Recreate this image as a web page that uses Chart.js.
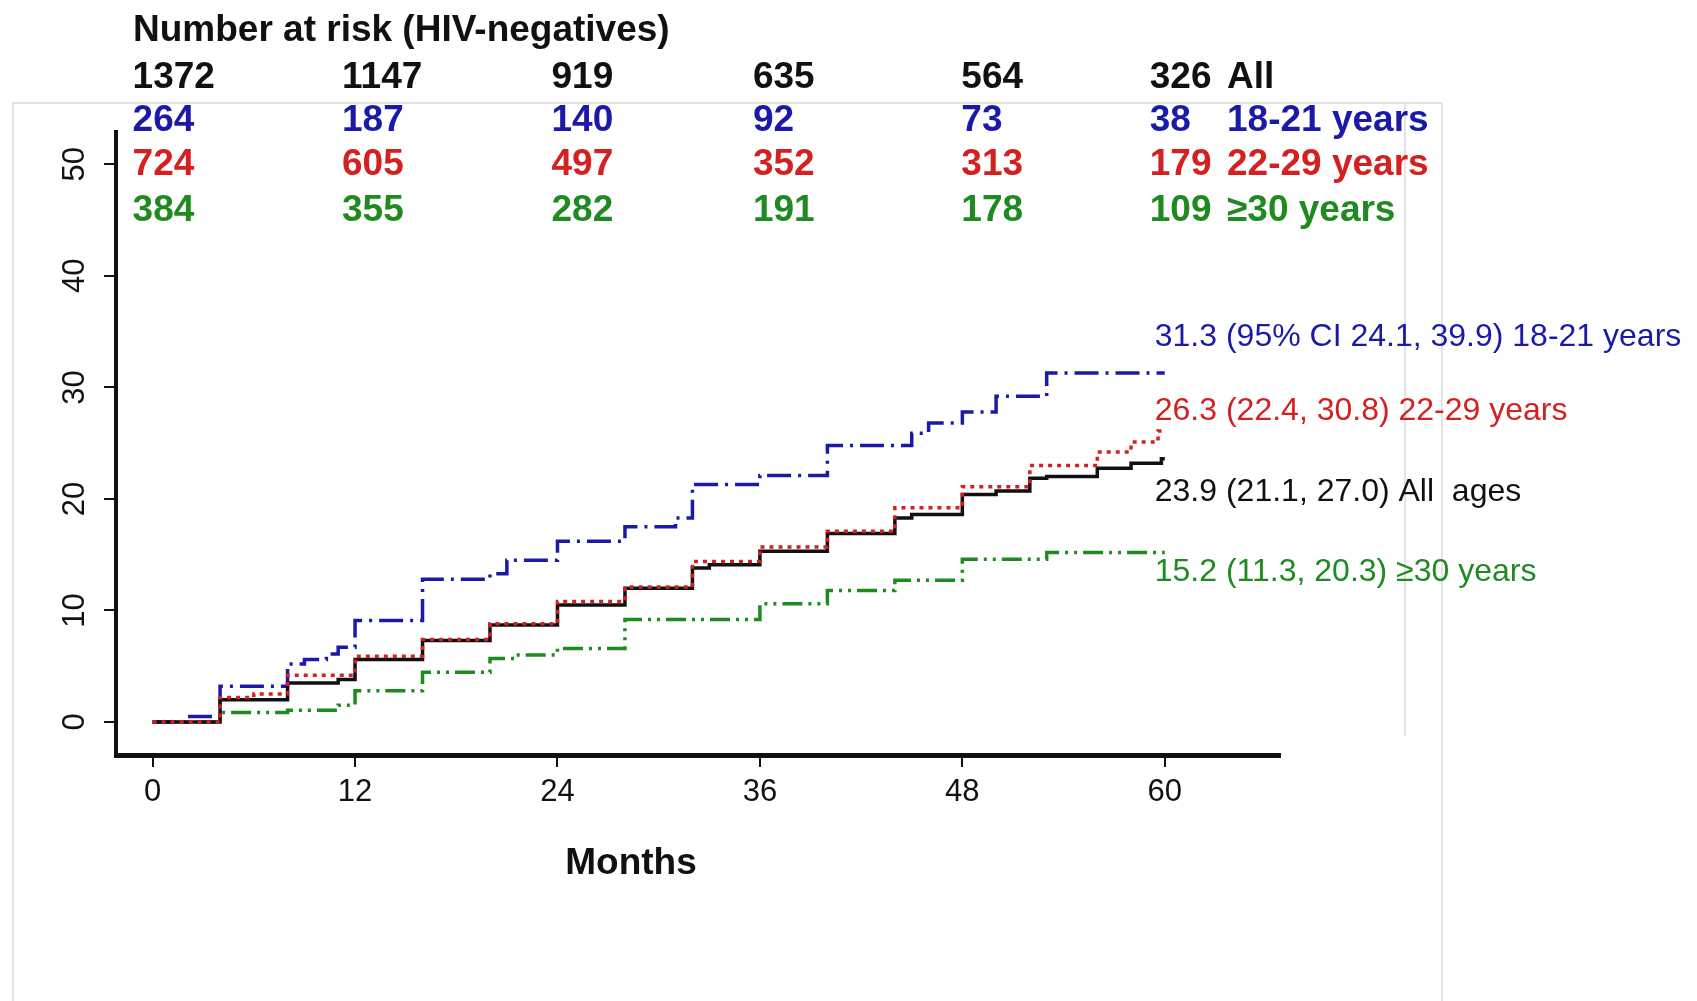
<!DOCTYPE html>
<html>
<head>
<meta charset="utf-8">
<script src="https://cdn.jsdelivr.net/npm/chart.js@4.4.1/dist/chart.umd.min.js"></script>
<style>
  html, body { margin: 0; padding: 0; background: #fff; }
  #wrap { width: 1697px; height: 1001px; position: relative; }
</style>
</head>
<body>
<div id="wrap"><canvas id="km"></canvas></div>
<script>
// cumulative incidence (%) step curves
const allMonths = [0, 4, 8, 11, 12, 16, 20, 24, 28, 32, 33, 36, 40, 44, 45, 48, 50, 52, 53, 56, 58, 59.8, 60]
const allValues = [0, 2.0, 3.5, 3.8, 5.6, 7.3, 8.7, 10.5, 12.0, 13.8, 14.1, 15.3, 16.9, 18.3, 18.6, 20.4, 20.7, 21.85, 22.0, 22.75, 23.2, 23.6, 23.6]

const youngMonths = [0, 2, 4, 8, 9, 10.3, 11, 12, 16, 20, 21, 24, 28, 31, 32, 36, 40, 45, 46, 48, 50, 53, 60]
const youngValues = [0, 0.5, 3.2, 5.2, 5.6, 6.1, 6.7, 9.1, 12.8, 13.3, 14.5, 16.2, 17.5, 18.3, 21.3, 22.1, 24.8, 25.9, 26.8, 27.8, 29.2, 31.3, 31.3]

const midMonths = [0, 4, 6, 8, 12, 16, 20, 24, 28, 32, 36, 40, 44, 48, 52, 56, 58, 59.6, 60]
const midValues = [0, 2.2, 2.5, 4.2, 5.9, 7.4, 8.8, 10.8, 12.1, 14.4, 15.7, 17.1, 19.2, 21.1, 23.0, 24.2, 25.1, 26.1, 26.1]

const oldMonths = [0, 4, 8, 11, 12, 16, 20, 21.5, 24, 28, 36, 40, 44, 48, 53, 60]
const oldValues = [0, 0.85, 1.05, 1.5, 2.8, 4.45, 5.7, 6.0, 6.6, 9.2, 10.6, 11.8, 12.7, 14.6, 15.2, 15.2]

// axes
const xTicks = [0, 12, 24, 36, 48, 60]
const yTicks = [0, 10, 20, 30, 40, 50]

// number at risk table
const riskMonths = [0, 12, 24, 36, 48, 60]
const riskAll = [1372, 1147, 919, 635, 564, 326]
const risk1821 = [264, 187, 140, 92, 73, 38]
const risk2229 = [724, 605, 497, 352, 313, 179]
const risk30 = [384, 355, 282, 191, 178, 109]
const riskGroups = ['All', '18-21 years', '22-29 years', '\u226530 years']

// estimates at 60 months
const endLabels = [
  '31.3 (95% CI 24.1, 39.9) 18-21 years',
  '26.3 (22.4, 30.8) 22-29 years',
  '23.9 (21.1, 27.0) All  ages',
  '15.2 (11.3, 20.3) \u226530 years',
]

const BLACK = '#111111'
const BLUE = '#1a1aa8'
const RED = '#d42020'
const GREEN = '#1f8a1f'
const FONT = '"Liberation Sans", Arial, sans-serif'

const toPoints = (months, values) => months.map((m, i) => ({ x: m, y: values[i] }))

const overlay = {
  id: 'overlay',
  beforeDraw(chart) {
    // faint frame left over from the original figure
    const ctx = chart.ctx
    ctx.save()
    ctx.strokeStyle = '#e4e4e4'
    ctx.lineWidth = 2
    ctx.beginPath()
    ctx.moveTo(13, 1001); ctx.lineTo(13, 103); ctx.lineTo(1442, 103); ctx.lineTo(1442, 1001)
    ctx.moveTo(1405, 103); ctx.lineTo(1405, 736)
    ctx.stroke()
    ctx.restore()
  },
  afterDraw(chart) {
    const { ctx, scales: { x, y } } = chart
    ctx.save()

    // y tick labels, rotated
    ctx.fillStyle = BLACK
    ctx.font = '31px ' + FONT
    ctx.textAlign = 'center'
    ctx.textBaseline = 'alphabetic'
    yTicks.forEach((v) => {
      ctx.save()
      ctx.translate(84, y.getPixelForValue(v))
      ctx.rotate(-Math.PI / 2)
      ctx.fillText(String(v), 0, 0)
      ctx.restore()
    })

    // x axis title
    ctx.font = 'bold 37px ' + FONT
    ctx.fillText('Months', 631, 874)

    // number at risk
    ctx.textAlign = 'left'
    ctx.fillText('Number at risk (HIV-negatives)', 133, 41)
    const rows = [riskAll, risk1821, risk2229, risk30]
    const rowColors = [BLACK, BLUE, RED, GREEN]
    const rowBase = [88, 131, 175, 221]
    const nudge = [-20, -13, -6, -7, -1, -15]
    rows.forEach((row, r) => {
      ctx.fillStyle = rowColors[r]
      ctx.font = 'bold 37px ' + FONT
      row.forEach((n, i) => {
        ctx.fillText(String(n), x.getPixelForValue(riskMonths[i]) + nudge[i], rowBase[r])
      })
      ctx.fillText(riskGroups[r], 1227, rowBase[r])
    })

    // end-of-curve estimates
    const endColors = [BLUE, RED, BLACK, GREEN]
    const endBase = [346, 420, 501, 581]
    ctx.font = '32px ' + FONT
    endLabels.forEach((t, i) => {
      ctx.fillStyle = endColors[i]
      ctx.fillText(t, x.getPixelForValue(60) - 10, endBase[i])
    })

    ctx.restore()
  },
}

const line = (label, months, values, color, dash, order) => ({
  label,
  data: toPoints(months, values),
  borderColor: color,
  borderWidth: 3.5,
  borderDash: dash,
  borderCapStyle: 'butt',
  stepped: true,
  pointRadius: 0,
  fill: false,
  order,
})

new Chart(document.getElementById('km'), {
  type: 'line',
  data: {
    datasets: [
      line('22-29 years', midMonths, midValues, RED, [4, 5], 1),
      line('All ages', allMonths, allValues, BLACK, [], 2),
      line('18-21 years', youngMonths, youngValues, BLUE, [24, 7, 3, 7], 3),
      line('\u226530 years', oldMonths, oldValues, GREEN, [20, 6, 3, 6, 3, 6], 4),
    ],
  },
  options: {
    responsive: true,
    maintainAspectRatio: false,
    animation: false,
    layout: { padding: { left: 0, top: 132, right: 417, bottom: 0 } },
    plugins: { legend: { display: false }, tooltip: { enabled: false } },
    scales: {
      x: {
        type: 'linear',
        min: -2.17,
        max: 66.83,
        afterBuildTicks: (s) => { s.ticks = xTicks.map((v) => ({ value: v })) },
        afterFit: (s) => { s.height = 246 },
        border: { display: true, color: BLACK, width: 5 },
        grid: { display: true, drawOnChartArea: false, drawTicks: true, tickLength: 12, color: BLACK, lineWidth: 2 },
        ticks: { color: BLACK, padding: 7, font: { family: FONT, size: 31 } },
      },
      y: {
        type: 'linear',
        min: -2.96,
        max: 52.9,
        afterBuildTicks: (s) => { s.ticks = yTicks.map((v) => ({ value: v })) },
        afterFit: (s) => { s.width = 116 },
        border: { display: true, color: BLACK, width: 4 },
        grid: { display: true, drawOnChartArea: false, drawTicks: true, tickLength: 12, color: BLACK, lineWidth: 2 },
        ticks: { display: false },
      },
    },
  },
  plugins: [overlay],
})
</script>
</body>
</html>
